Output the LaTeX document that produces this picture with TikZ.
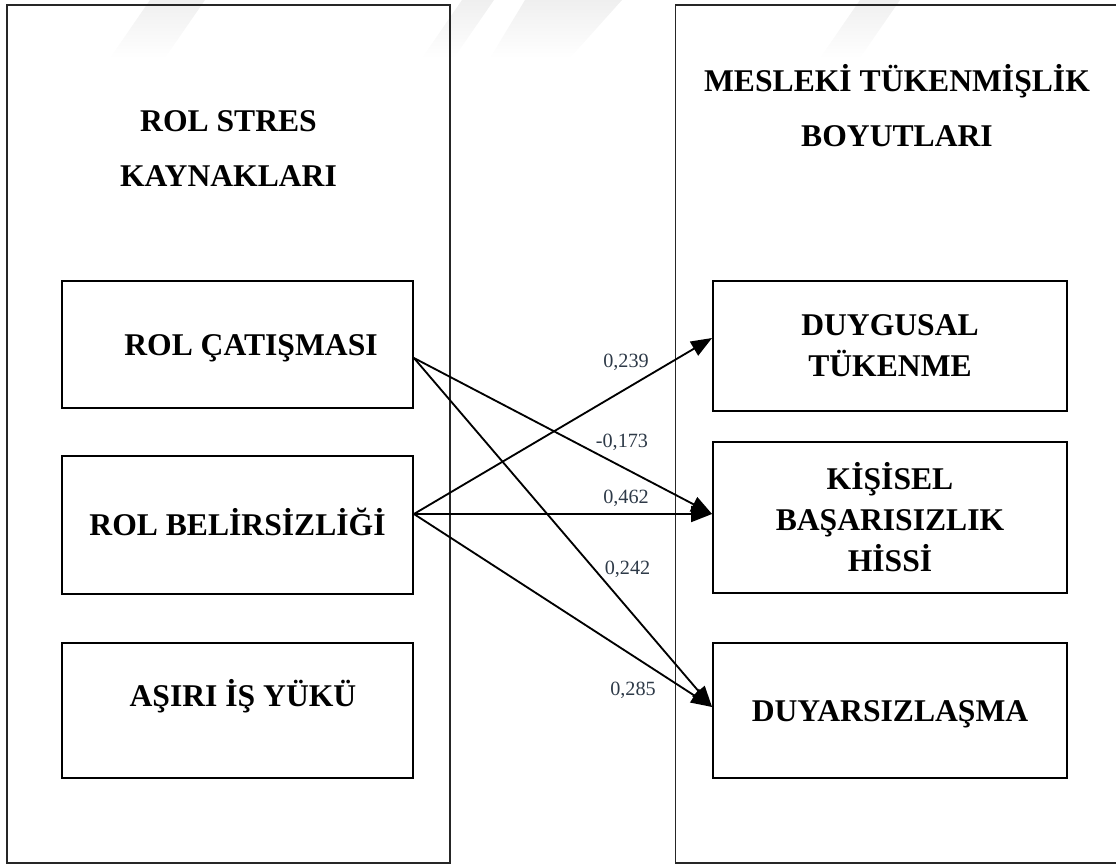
\documentclass[tikz,border=0pt]{standalone}
\usepackage{fontspec}
\setmainfont{Liberation Serif}
\usetikzlibrary{arrows.meta}
\definecolor{CoefInk}{HTML}{2E3A48}
\definecolor{MarkGray}{HTML}{EFEFEF}

\begin{document}
\begin{tikzpicture}[x=0.02cm,y=-0.02cm,
  group/.style={draw=black!85,line width=0.9pt,minimum width=8.86cm,minimum height=17.16cm},
  title/.style={font=\bfseries\fontsize{18pt}{31.3pt}\selectfont,align=center},
  unit/.style={draw,line width=1.1pt,font=\bfseries\fontsize{18pt}{23.3pt}\selectfont,align=center},
  oneline/.style={text height=0.44cm,text depth=0pt},
  link/.style={line width=1.05pt,-{Triangle[length=0.42cm,width=0.32cm]}},
  coef/.style={font=\fontsize{11.5pt}{13pt}\selectfont,text=CoefInk,inner sep=0pt}]
\path[use as bounding box] (0,0) rectangle (1116,864);
\clip (0,0) rectangle (1116,864);
% faint watermark bands
\shade[top color=MarkGray,bottom color=white] (150,0) -- (205,0) -- (165,58) -- (110,58) -- cycle;
\shade[top color=MarkGray,bottom color=white] (462,0) -- (494,0) -- (454,58) -- (422,58) -- cycle;
\shade[top color=MarkGray,bottom color=white] (525,0) -- (622,0) -- (570,58) -- (490,58) -- cycle;
\shade[top color=MarkGray,bottom color=white] (860,0) -- (900,0) -- (860,58) -- (820,58) -- cycle;

% the two groups
\node[group] (sources) at (228.5,434) {};
\node[group] (burnout) at (897,434) {};
\node[title] (srctitle) at (228.5,148.5) {ROL STRES\\KAYNAKLARI};
\node[title] (bottitle) at (897,106) {MESLEKİ TÜKENMİŞLİK\\BOYUTLARI};

% stress sources
\node[unit,oneline,minimum width=7.02cm,minimum height=2.54cm] (rc) at (237.5,344.5) {\hspace*{0.54cm}ROL ÇATIŞMASI};
\node[unit,oneline,minimum width=7.02cm,minimum height=2.76cm] (rb) at (237.5,525) {ROL BELİRSİZLİĞİ};
\node[unit,text height=0.44cm,text depth=0.6cm,minimum width=7.02cm,minimum height=2.7cm] (ay) at (237.5,710.5) {\hspace*{0.22cm}AŞIRI İŞ YÜKÜ};

% burnout dimensions
\node[unit,minimum width=7.08cm,minimum height=2.6cm] (dt) at (890,346) {DUYGUSAL\\TÜKENME};
\node[unit,minimum width=7.08cm,minimum height=3.02cm] (kb) at (890,517.5) {KİŞİSEL\\BAŞARISIZLIK\\HİSSİ};
\node[unit,oneline,minimum width=7.08cm,minimum height=2.7cm] (dz) at (890,710.5) {DUYARSIZLAŞMA};

% paths
\draw[link] ([yshift=-0.27cm]rc.east) -- ([yshift=0.07cm]kb.west);
\draw[link] ([yshift=-0.27cm]rc.east) -- ([yshift=0.07cm]dz.west);
\draw[link] ([yshift=0.22cm]rb.east) -- ([yshift=0.16cm]dt.west);
\draw[link] ([yshift=0.22cm]rb.east) -- ([yshift=0.07cm]kb.west);
\draw[link] ([yshift=0.22cm]rb.east) -- ([yshift=0.07cm]dz.west);

% coefficients
\node[coef] (c239) at (626,362) {0,239};
\node[coef] (c173) at (622,442) {-0,173};
\node[coef] (c462) at (626,498) {0,462};
\node[coef] (c242) at (627.5,569) {0,242};
\node[coef] (c285) at (633,690) {0,285};
\end{tikzpicture}
\end{document}
